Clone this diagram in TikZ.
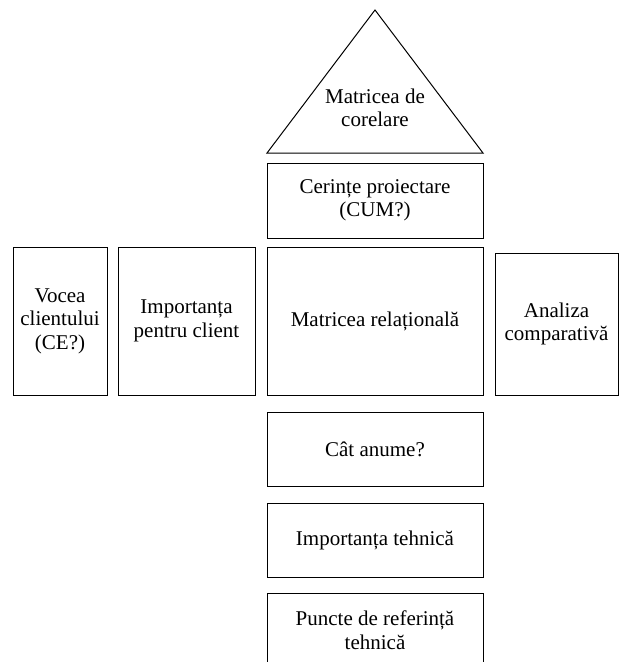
\documentclass[tikz,border=0pt]{standalone}
\usepackage{fontspec}
\setmainfont{Liberation Serif}
\begin{document}
\begin{tikzpicture}[x=1pt,y=-1pt,line width=1pt,
  txt/.style={align=center,inner sep=0pt,font=\fontsize{21}{23.5}\selectfont},
  box/.style={txt,draw,outer sep=0pt}]
\useasboundingbox (0,0) rectangle (619,662);
\clip (0,0) rectangle (619,662);
\draw (375,10)--(267,153)--(483,153)--cycle;
\node[txt] (corelare) at (375,108) {Matricea de\\corelare};
\node[box,minimum width=216pt,minimum height=75pt] (cum) at (375,200.5) {Cerințe proiectare\\(CUM?)};
\node[box,minimum width=94pt,minimum height=148pt] (ce) at (60,321) {Vocea\\clientului\\(CE?)};
\node[box,minimum width=137pt,minimum height=148pt] (client) at (186.5,321) {Importanța\\pentru client};
\node[box,minimum width=216pt,minimum height=148pt] (relatii) at (375,321) {Matricea relațională};
\node[box,minimum width=123pt,minimum height=142pt] (comparativ) at (556.5,324) {Analiza\\comparativă};
\node[box,minimum width=216pt,minimum height=74pt] (cat) at (375,449) {Cât anume?};
\node[box,minimum width=216pt,minimum height=74pt] (tehnic) at (375,540) {Importanța tehnică};
\node[box,minimum width=216pt,minimum height=74pt] (referinta) at (375,630) {Puncte de referință\\tehnică};
\end{tikzpicture}
\end{document}
